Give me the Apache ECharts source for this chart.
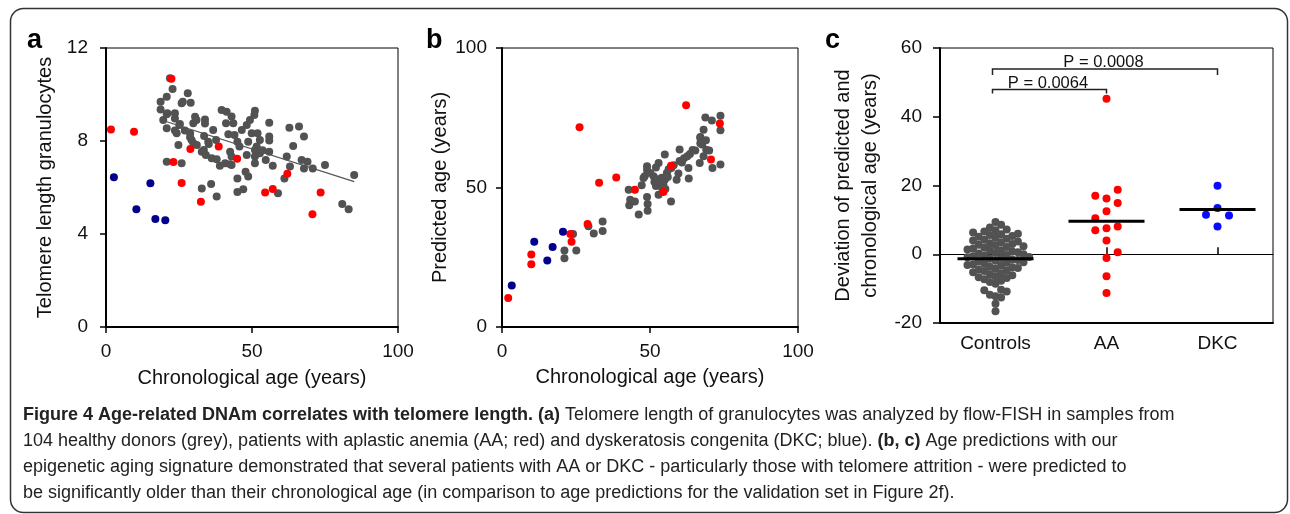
<!DOCTYPE html>
<html>
<head>
<meta charset="utf-8">
<script src="https://cdn.jsdelivr.net/npm/echarts@6/dist/echarts.min.js"></script>
<style>
html,body{margin:0;padding:0;background:#fff;}
#chart{width:1290px;height:514px;}
</style>
</head>
<body>
<div id="chart"></div>
<script>
// ---------- Panel a: chronological age vs telomere length ----------
const aGrey = [[18.7,9.69],[18.7,9.36],[19.6,8.90],[20.8,9.90],[20.8,9.15],[20.8,8.55],[20.8,7.11],[21.9,10.70],[22.8,10.24],[21.0,9.19],
[23.6,9.19],[23.6,8.97],[24.2,8.33],[23.6,8.45],[25.1,8.69],[25.9,9.62],[26.3,9.69],[28.0,10.05],[29.0,9.65],[24.8,7.83],
[25.9,7.04],[25.3,8.73],[28.8,8.33],[29.3,8.04],[28.8,8.16],[29.9,7.90],[31.1,7.83],[30.5,9.04],[29.9,8.76],[31.0,8.90],
[33.9,8.93],[33.9,8.75],[33.6,8.21],[35.0,7.97],[35.2,7.87],[32.8,7.54],[33.5,7.61],[34.2,7.40],[36.2,7.26],[36.7,8.47],
[37.7,8.04],[37.9,7.21],[39.0,6.94],[32.8,5.96],[36.0,6.15],[37.9,5.61],[39.6,9.33],[41.3,9.26],[41.1,8.76],[41.9,8.29],
[43.0,9.05],[43.6,8.76],[44.0,8.26],[42.5,7.54],[43.0,7.33],[40.8,7.04],[42.5,7.00],[43.0,6.97],[45.0,7.97],[45.7,7.76],
[45.0,6.39],[45.0,5.81],[47.0,5.92],[46.5,8.47],[48.2,8.69],[49.3,8.90],[48.7,7.97],[47.8,6.68],[48.7,6.47],[49.9,8.33],
[51.0,9.30],[50.8,9.12],[51.9,8.33],[51.6,7.76],[52.7,8.04],[51.0,7.33],[51.0,7.04],[52.7,7.47],[51.0,7.61],[48.2,7.40],
[54.7,7.18],[55.9,8.79],[55.9,8.19],[55.9,7.54],[55.9,8.02],[57.1,6.94],[58.9,5.75],[61.1,6.39],[61.9,7.33],[62.8,8.57],
[63.0,6.90],[64.1,7.78],[66.1,8.62],[67.8,8.19],[67.0,7.18],[67.8,6.82],[69.0,7.11],[70.8,6.82],[75.0,6.97],[80.9,5.29],
[83.1,5.06],[85.0,6.54],[27.0,8.45],[53.6,7.60]];
const aRed = [[1.7,8.49],[9.6,8.40],[22.4,10.68],[23.1,7.10],[25.9,6.19],[28.9,7.66],[32.5,5.39],[38.6,7.76],[44.9,7.24],[54.5,5.79],[57.1,5.94],[62.1,6.59],[70.7,4.85],[73.5,5.79]];
const aBlue = [[2.7,6.44],[10.4,5.06],[15.2,6.18],[16.9,4.65],[20.3,4.59]];
const aTrend = [[20.8,8.83],[85.0,6.25]];

// ---------- Panel b: chronological vs predicted age ----------
const bGrey = [[21.1,27.4],[21.1,24.6],[24.0,33.3],[25.1,27.4],[29.2,36.1],[31.0,33.5],[34.0,37.8],[34.0,34.4],
[42.8,49.2],[43.0,43.6],[43.3,45.6],[44.9,45.0],[46.2,40.3],[47.2,50.8],[47.8,53.4],[48.2,54.0],[49.0,57.6],[49.0,56.3],[49.0,46.6],[49.2,44.1],
[49.2,41.7],[50.1,55.2],[51.2,54.0],[51.5,52.0],[52.0,50.5],[52.5,53.0],[52.9,58.8],[52.9,47.4],[52.0,57.2],[53.0,51.5],
[53.5,52.5],[54.0,50.0],[54.0,53.5],[54.5,51.2],[55.0,61.8],[55.0,52.8],[55.2,49.5],[55.7,55.2],[56.0,53.8],[56.3,56.5],
[57.1,45.0],[57.2,57.0],[58.0,58.0],[59.0,52.8],[59.6,55.0],[60.0,63.6],[60.0,59.5],[60.8,59.0],[61.5,60.5],[62.6,61.2],
[63.0,57.0],[63.1,53.2],[63.5,62.0],[64.4,63.4],[65.3,63.3],[66.8,58.8],[67.0,67.7],[67.0,65.9],[67.6,65.4],[67.0,68.1],
[68.1,70.7],[68.1,61.2],[68.7,75.1],[68.9,66.9],[69.0,63.5],[70.0,63.3],[70.9,74.0],[71.1,57.0],[73.8,75.7],[73.8,70.5],
[73.8,58.2]];
const bRed = [[2.1,10.4],[9.9,26.0],[9.9,22.5],[23.1,33.3],[23.5,30.6],[26.2,71.6],[28.9,36.9],[32.8,51.7],[38.6,53.6],[44.9,49.2],[54.5,48.4],[57.1,57.8],[62.2,79.5],[70.6,60.0],[73.6,72.9]];
const bBlue = [[3.3,14.9],[10.9,30.6],[15.3,23.8],[17.1,28.7],[20.6,34.1]];

// ---------- Panel c: deviation of predicted and chronological age ----------
const cCategories = ['Controls', 'AA', 'DKC'];
const cControls = [9.4,8.6,7.8,7.2,7.0,6.6,6.3,6.0,5.8,5.6,5.3,5.1,4.8,4.5,4.2,4.0,3.7,3.5,3.2,3.0,
2.8,2.6,2.3,2.1,1.9,1.7,1.4,1.2,1.0,0.8,0.6,0.4,0.2,0.0,-0.2,-0.4,-0.6,-0.8,-0.9,
-1.1,-1.3,-1.5,-1.7,-1.9,-2.1,-2.3,-2.5,-2.7,-2.9,-3.1,-3.3,-3.6,-3.8,-4.0,-4.2,-4.4,-4.7,-4.9,
-5.2,-5.5,-5.8,-6.1,-6.4,-6.7,-6.9,-7.3,-7.7,-8.1,-8.6,-10.3,-10.5,-10.8,-11.8,-12.2,-12.6,-14.4,-16.6];
const cAA = [45.25,18.8,17.0,16.2,14.9,12.5,10.5,7.0,8.1,7.6,4.0,0.55,-1.1,-6.4,-11.3];
const cDKC = [19.95,13.45,11.5,11.3,8.1];
const cMeans = [-1.3, 9.6, 13.0];
const cPValues = ['P = 0.0064', 'P = 0.0008'];
const cBrackets = [[0, 47.9, 1], [0, 53.9, 2]]; // [from category, height, to category]

const aXTicks = {min: 0, max: 100, interval: 50};
const aYTicks = {min: 0, max: 12, interval: 4};
const bYTicks = {min: 0, max: 100, interval: 50};
const cYTicks = {min: -20, max: 60, interval: 20};

// ---------- layout / style ----------
const FONT = 'Liberation Sans, Arial, sans-serif';
const GREY = '#525252', RED = '#ff0000', NAVY = '#00008c', BLUE = '#0a0aff';
const gridA = {left: 106, top: 48, width: 292, height: 279};
const gridB = {left: 502, top: 48, width: 296, height: 279};
const gridC = {left: 940, top: 48, width: 333, height: 275};

// column-based dot plot layout (computed from the values)
function dotColumns(values, stepPx, minGapPx, pxPerUnit) {
  const order = values.map((v, i) => i).sort((a, b) => values[a] - values[b]);
  const cols = {};
  const offs = new Array(values.length);
  let left = 0, right = 0;
  for (const i of order) {
    const y = values[i] * pxPerUnit;
    const free = k => !(cols[k] || []).some(py => Math.abs(py - y) < minGapPx);
    let chosen = null;
    if (free(0)) chosen = 0;
    for (let k = 1; chosen === null && k < 40; k++) {
      const pr = free(k), pl = free(-k);
      if (pr && pl) chosen = (left < right) ? -k : k;
      else if (pr) chosen = k;
      else if (pl) chosen = -k;
    }
    (cols[chosen] = cols[chosen] || []).push(y);
    if (chosen > 0) right++; else if (chosen < 0) left++;
    offs[i] = chosen * stepPx;
  }
  return offs;
}
const cPx = gridC.height / (cYTicks.max - cYTicks.min);
function dotData(values, cat, step, gap) {
  const offs = dotColumns(values, step, gap, cPx);
  return values.map((v, i) => ({value: [cat, v], symbolOffset: [offs[i], 0]}));
}

const axisLabelStyle = {color: '#111', fontSize: 19, fontFamily: FONT};
const nameStyle = {color: '#111', fontSize: 20, fontFamily: FONT};

function valueAxis(extra) {
  return Object.assign({
    type: 'value',
    splitLine: {show: false},
    axisLine: {show: true, onZero: false, lineStyle: {color: '#000', width: 2}},
    axisTick: {show: true, length: 6, lineStyle: {color: '#000', width: 1.5}},
    nameLocation: 'middle',
    nameTextStyle: nameStyle
  }, extra);
}

const chart = echarts.init(document.getElementById('chart'), null, {renderer: 'canvas'});

const captionFont = '18px Liberation Sans Narrow, sans-serif';
const boldRich = {b: {fontWeight: 'bold', fontFamily: 'Liberation Sans Narrow, sans-serif', fontSize: 18, fill: '#222'}};

const option = {
  backgroundColor: '#fff',
  animation: false,
  grid: [
    Object.assign({show: true, borderColor: '#000', borderWidth: 1}, gridA),
    Object.assign({show: true, borderColor: '#000', borderWidth: 1}, gridB),
    Object.assign({show: true, borderColor: '#000', borderWidth: 1}, gridC)
  ],
  xAxis: [
    valueAxis(Object.assign({gridIndex: 0, name: 'Chronological age (years)', nameGap: 41,
      axisLabel: Object.assign({margin: 15}, axisLabelStyle)}, aXTicks)),
    valueAxis(Object.assign({gridIndex: 1, name: 'Chronological age (years)', nameGap: 40,
      axisLabel: Object.assign({margin: 15}, axisLabelStyle)}, aXTicks)),
    {type: 'category', gridIndex: 2, data: cCategories, boundaryGap: true,
      axisLine: {show: true, onZero: false, lineStyle: {color: '#000', width: 2}},
      axisTick: {show: false},
      axisLabel: Object.assign({margin: 11}, axisLabelStyle)},
    {type: 'category', gridIndex: 2, data: cCategories, boundaryGap: true,
      axisLine: {show: true, onZero: true, onZeroAxisIndex: 2, lineStyle: {color: '#000', width: 1}},
      axisTick: {show: true, alignWithLabel: true, length: 7, lineStyle: {color: '#000', width: 1.5}},
      axisLabel: {show: false}}
  ],
  yAxis: [
    valueAxis(Object.assign({gridIndex: 0, name: 'Telomere length granulocytes', nameGap: 51, nameRotate: 90,
      axisLabel: Object.assign({margin: 18}, axisLabelStyle)}, aYTicks)),
    valueAxis(Object.assign({gridIndex: 1, name: 'Predicted age (years)', nameGap: 52, nameRotate: 90,
      axisLabel: Object.assign({margin: 15}, axisLabelStyle)}, bYTicks)),
    valueAxis(Object.assign({gridIndex: 2, name: 'Deviation of predicted and\nchronological age (years)', nameGap: 56, nameRotate: 90,
      nameTextStyle: Object.assign({lineHeight: 27}, nameStyle),
      axisTick: {show: true, length: 7, lineStyle: {color: '#000', width: 1.5}},
      axisLabel: Object.assign({margin: 18}, axisLabelStyle)}, cYTicks))
  ],
  series: [
    // panel a
    {type: 'scatter', xAxisIndex: 0, yAxisIndex: 0, data: aGrey, symbolSize: 8, itemStyle: {color: GREY, opacity: 1}, z: 2},
    {type: 'line', xAxisIndex: 0, yAxisIndex: 0, data: aTrend, showSymbol: false, symbol: 'none',
      lineStyle: {color: '#555', width: 1.2}, z: 3},
    {type: 'scatter', xAxisIndex: 0, yAxisIndex: 0, data: aRed, symbolSize: 8, itemStyle: {color: RED, opacity: 1}, z: 4},
    {type: 'scatter', xAxisIndex: 0, yAxisIndex: 0, data: aBlue, symbolSize: 8, itemStyle: {color: NAVY, opacity: 1}, z: 4},
    // panel b
    {type: 'scatter', xAxisIndex: 1, yAxisIndex: 1, data: bGrey, symbolSize: 8, itemStyle: {color: GREY, opacity: 1}, z: 2},
    {type: 'scatter', xAxisIndex: 1, yAxisIndex: 1, data: bRed, symbolSize: 8, itemStyle: {color: RED, opacity: 1}, z: 4},
    {type: 'scatter', xAxisIndex: 1, yAxisIndex: 1, data: bBlue, symbolSize: 8, itemStyle: {color: NAVY, opacity: 1}, z: 4},
    // panel c
    {type: 'scatter', xAxisIndex: 2, yAxisIndex: 2, data: dotData(cControls, 0, 5.6, 7.5), symbolSize: 8,
      itemStyle: {color: GREY, opacity: 1}, z: 2},
    {type: 'scatter', xAxisIndex: 2, yAxisIndex: 2, data: dotData(cAA, 1, 11.2, 12), symbolSize: 8,
      itemStyle: {color: RED, opacity: 1}, z: 2},
    {type: 'scatter', xAxisIndex: 2, yAxisIndex: 2, data: dotData(cDKC, 2, 11.5, 12), symbolSize: 8,
      itemStyle: {color: BLUE, opacity: 1}, z: 2},
    {type: 'custom', xAxisIndex: 2, yAxisIndex: 2, z: 5,
      data: cMeans.map((m, i) => [i, m]),
      renderItem: function (params, api) {
        const p = api.coord([api.value(0), api.value(1)]);
        return {type: 'line', shape: {x1: p[0] - 38, y1: p[1], x2: p[0] + 38, y2: p[1]},
          style: {stroke: '#000', lineWidth: 3}};
      }},
    {type: 'custom', xAxisIndex: 2, yAxisIndex: 2, z: 5, clip: false,
      data: cBrackets,
      renderItem: function (params, api) {
        const p0 = api.coord([api.value(0), api.value(1)]);
        const p1 = api.coord([api.value(2), api.value(1)]);
        const drop = params.dataIndex === 0 ? 4 : 6;
        return {type: 'group', children: [
          {type: 'polyline', shape: {points: [[p0[0] - 3, p0[1] + drop], [p0[0] - 3, p0[1]], [p1[0], p1[1]], [p1[0], p1[1] + drop]]},
            style: {stroke: '#222', lineWidth: 1.5, fill: null}},
          {type: 'text', style: {x: (p0[0] + p1[0]) / 2 - 3, y: p0[1] + 2, text: cPValues[params.dataIndex],
            fill: '#111', font: '16.5px ' + FONT, textAlign: 'center', verticalAlign: 'bottom'}}
        ]};
      }}
  ],
  graphic: [
    {type: 'rect', shape: {x: 10.5, y: 8.5, width: 1277, height: 504, r: 13},
      style: {fill: 'none', stroke: '#333', lineWidth: 1.5}, silent: true, z: -1},
    {type: 'text', style: {x: 27, y: 54, text: 'a', font: 'bold 27px ' + FONT, fill: '#000', verticalAlign: 'bottom'}},
    {type: 'text', style: {x: 426, y: 54, text: 'b', font: 'bold 27px ' + FONT, fill: '#000', verticalAlign: 'bottom'}},
    {type: 'text', style: {x: 825, y: 54, text: 'c', font: 'bold 27px ' + FONT, fill: '#000', verticalAlign: 'bottom'}},
    {type: 'text', style: {x: 23, y: 415, verticalAlign: 'middle', fill: '#222', font: captionFont,
      text: '{b|Figure 4 Age-related DNAm correlates with telomere length.} {b|(a)} Telomere length of granulocytes was analyzed by flow-FISH in samples from',
      rich: boldRich}},
    {type: 'text', style: {x: 23, y: 441, verticalAlign: 'middle', fill: '#222', font: captionFont,
      text: '104 healthy donors (grey), patients with aplastic anemia (AA; red) and dyskeratosis congenita (DKC; blue). {b|(b, c)} Age predictions with our',
      rich: boldRich}},
    {type: 'text', style: {x: 23, y: 467, verticalAlign: 'middle', fill: '#222', font: captionFont,
      text: 'epigenetic aging signature demonstrated that several patients with AA or DKC - particularly those with telomere attrition - were predicted to'}},
    {type: 'text', style: {x: 23, y: 493, verticalAlign: 'middle', fill: '#222', font: captionFont,
      text: 'be significantly older than their chronological age (in comparison to age predictions for the validation set in Figure 2f).'}}
  ]
};
chart.setOption(option);
</script>
</body>
</html>
